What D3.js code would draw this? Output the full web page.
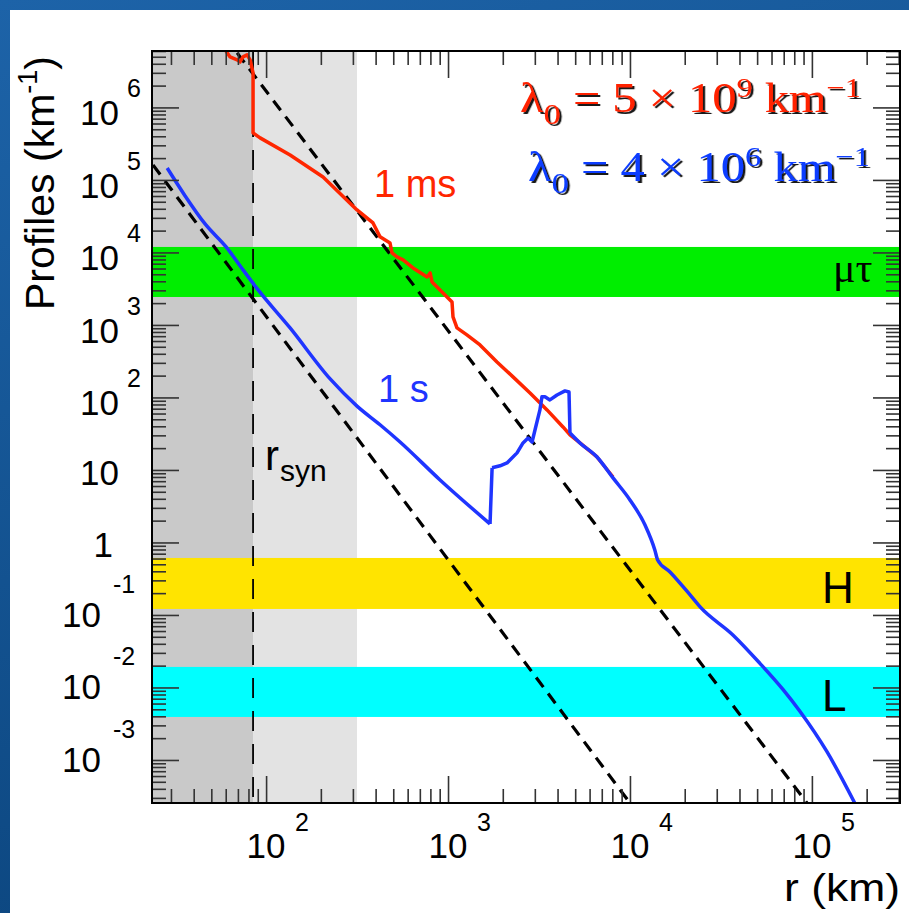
<!DOCTYPE html>
<html>
<head>
<meta charset="utf-8">
<title>Profiles vs r</title>
<script src="https://d3js.org/d3.v7.min.js"></script>
<style>
  body { margin: 0; background: #14589c; }
  svg { display: block; }
</style>
</head>
<body>
<div id="chart"></div>
<script>
// ---- data ----
const rDomain = [23.6, 3.05e5];        // km
const pDomain = [2.55e-4, 6.0e6];      // km^-1
const rSyn = 84.8;
const rLightEdge = 316;

const bandNames  = ["μτ", "H", "L"];
const bandLow    = [2.43e3, 0.121, 0.00392];
const bandHigh   = [1.19e4, 0.611, 0.0192];
const bandColors = ["#00ee00", "#ffe400", "#00ffff"];

// 1 ms profile (red)
const redR = [60.2, 63.4, 69.3, 71.9, 74.7, 78.6, 81.7, 84.8, 84.8, 92.7, 135.5, 205.6, 316, 387,
  423, 480, 492, 524, 566, 642, 767, 797, 817, 904, 1000, 1052, 1065, 1120, 1270, 1499, 1638,
  1858, 2276, 2823, 3501, 4285, 4680, 5310, 6590, 8070];
const redP = [6.0e6, 4.97e6, 4.52e6, 4.24e6, 4.97e6, 5.30e6, 4.52e6, 2.99e6, 4.45e5, 3.80e5,
  2.21e5, 1.10e5, 3.86e4, 2.55e4, 1.64e4, 1.35e4, 9.84e3, 8.67e3, 7.88e3, 6.11e3, 4.59e3,
  5.21e3, 3.92e3, 3.04e3, 2.36e3, 2.07e3, 1.29e3, 909, 728, 530, 424, 309, 192, 115, 67.3,
  39.2, 30.4, 23.6, 15.1, 8.0];

// 1 s profile (blue)
const blueR = [28.6, 35.9, 46.2, 60.3, 74.7, 90.4, 135.5, 225, 316, 423, 545, 904, 1702, 1747,
  1932, 2110, 2395, 2584, 2754, 2897, 3006, 3200, 3283, 3410, 3631, 3972, 4395, 4624, 4680,
  5310, 6590, 8070, 1.0e4, 1.21e4, 1.37e4, 1.42e4, 1.66e4, 2.14e4, 2.43e4, 3.68e4, 5.18e4,
  6.93e4, 8.59e4, 1.21e5, 1.72e5];
const blueP = [1.46e5, 6.02e4, 2.47e4, 1.19e4, 5.74e3, 3.04e3, 909, 180, 76, 42, 24.3, 7.28,
  1.80, 10.7, 11.4, 12.5, 17.2, 23.6, 27.6, 24.3, 35.6, 67.3, 102, 102, 92.4, 108, 123, 119,
  32.4, 23.6, 15.1, 7.76, 3.86, 1.74, 0.788, 0.574, 0.392, 0.189, 0.129, 0.053, 0.0215,
  0.0094, 0.0047, 0.0013, 2.55e-4];
// indices where the blue profile has sharp corners
const blueCorners = [12, 13, 28];

// dashed reference lines (end points)
const dashUpperR = [69.3, 9.40e4];
const dashUpperP = [5.65e6, 2.55e-4];
const dashLowerR = [23.9, 1.0e4];
const dashLowerP = [1.61e5, 2.55e-4];

const xLabelExp = [2, 3, 4, 5];
const yLabelExp = [-3, -2, -1, 0, 1, 2, 3, 4, 5, 6];

// ---- layout ----
const W = 909, H = 913;
const plotL = 152, plotR = 900, plotT = 51, plotB = 803;
const SANS = "Liberation Sans, Arial, Helvetica, sans-serif";
const SERIF = "Liberation Serif, Times New Roman, serif";

const svg = d3.select("#chart").append("svg")
  .attr("width", W).attr("height", H);

// slide background
const defs = svg.append("defs");
const grad = defs.append("linearGradient").attr("id", "bg")
  .attr("x1", 0).attr("y1", 0).attr("x2", 0.3).attr("y2", 1);
grad.append("stop").attr("offset", 0).attr("stop-color", "#1d63a8");
grad.append("stop").attr("offset", 1).attr("stop-color", "#0c467f");
svg.append("rect").attr("width", W).attr("height", H).attr("fill", "url(#bg)");
svg.append("rect").attr("x", 10).attr("y", 10).attr("width", W - 10).attr("height", H - 10)
  .attr("fill", "#fff");

defs.append("clipPath").attr("id", "plotclip").append("rect")
  .attr("x", plotL).attr("y", plotT).attr("width", plotR - plotL).attr("height", plotB - plotT);

// drop shadow for the lambda labels
defs.append("filter").attr("id", "shadow")
  .attr("x", "-5%").attr("y", "-20%").attr("width", "115%").attr("height", "150%")
  .append("feDropShadow").attr("dx", 2).attr("dy", 2).attr("stdDeviation", 0.4)
  .attr("flood-color", "#000").attr("flood-opacity", 0.9);

const x = d3.scaleLog().domain(rDomain).range([plotL, plotR]);
const y = d3.scaleLog().domain(pDomain).range([plotB, plotT]);

const plot = svg.append("g").attr("clip-path", "url(#plotclip)");

// shaded regions
plot.append("rect").attr("x", x(rDomain[0])).attr("y", plotT)
  .attr("width", x(rSyn) - x(rDomain[0])).attr("height", plotB - plotT).attr("fill", "#c9c9c9");
plot.append("rect").attr("x", x(rSyn)).attr("y", plotT)
  .attr("width", x(rLightEdge) - x(rSyn)).attr("height", plotB - plotT).attr("fill", "#e3e3e3");

// bands
bandNames.forEach((n, i) => {
  plot.append("rect").attr("x", plotL).attr("width", plotR - plotL)
    .attr("y", y(bandHigh[i])).attr("height", y(bandLow[i]) - y(bandHigh[i]))
    .attr("fill", bandColors[i]);
});

// r_syn line
plot.append("line").attr("x1", x(rSyn)).attr("x2", x(rSyn)).attr("y1", plotT).attr("y2", plotB)
  .attr("stroke", "#000").attr("stroke-width", 1.8).attr("stroke-dasharray", "20,13");

const line = d3.line().x(d => x(d[0])).y(d => y(d[1]));
const smooth = d3.line().x(d => x(d[0])).y(d => y(d[1])).curve(d3.curveMonotoneX);

[[dashUpperR, dashUpperP], [dashLowerR, dashLowerP]].forEach(([rs, ps]) => {
  plot.append("path").datum(d3.zip(rs, ps)).attr("d", line)
    .attr("fill", "none").attr("stroke", "#000").attr("stroke-width", 3.2)
    .attr("stroke-dasharray", "12,8");
});

plot.append("path").datum(d3.zip(redR, redP)).attr("d", line)
  .attr("fill", "none").attr("stroke", "#ff2600").attr("stroke-width", 3.5)
  .attr("stroke-linejoin", "round");

// blue: smooth pieces between the sharp corners, the spiky middle part kept straight
const bluePts = d3.zip(blueR, blueP);
const cuts = [0, ...blueCorners, bluePts.length - 1];
const bluePath = [];
for (let k = 0; k < cuts.length - 1; k++) {
  const seg = bluePts.slice(cuts[k], cuts[k + 1] + 1);
  const gen = (k === 0 || k === cuts.length - 2) ? smooth : line;
  bluePath.push(gen(seg));
}
plot.append("path").attr("d", bluePath.join(""))
  .attr("fill", "none").attr("stroke", "#1f35ff").attr("stroke-width", 3.5)
  .attr("stroke-linejoin", "round");

// ---- text helper ----
function label(px, py, str, size, color, anchor, family, sx) {
  return svg.append("text")
    .attr("transform", `translate(${px},${py}) scale(${sx || 1},1)`)
    .attr("font-family", family || SANS).attr("font-size", size)
    .attr("fill", color || "#000").attr("text-anchor", anchor || "start")
    .text(str);
}

// in-plot labels
label(374, 197, "1 ms", 38, "#ff2600");
label(378, 402, "1 s", 38, "#1f35ff");
const rs = label(265, 470, "r", 42, "#000");
rs.append("tspan").attr("font-size", 30).attr("dx", 1).attr("dy", 11).text("syn");
label(833, 282, bandNames[0], 42, "#000", "start", SERIF);
label(822, 603, bandNames[1], 44, "#000");
label(822, 711, bandNames[2], 44, "#000");

// lambda labels with drop shadow
function lambdaLabel(px, py, color, mant, expo, targetW) {
  const t = svg.append("text")
    .attr("font-family", SERIF).attr("font-size", 42).attr("fill", color)
    .attr("filter", "url(#shadow)");
  t.append("tspan").text("λ");
  t.append("tspan").attr("font-size", 30).attr("dy", 12).text("0");
  t.append("tspan").attr("dy", -12).text(" = " + mant + " × 10");
  t.append("tspan").attr("font-size", 28).attr("dy", -15).text(expo);
  t.append("tspan").attr("dy", 15).text(" km");
  t.append("tspan").attr("font-size", 28).attr("dy", -15).text("−1");
  const w = t.node().getBBox().width;
  t.attr("transform", `translate(${px},${py}) scale(${targetW / w},1)`);
}
lambdaLabel(520, 112, "#ff2200", "5", "9", 341);
lambdaLabel(528, 181, "#0a3cff", "4", "6", 342);

// ---- frame and ticks ----
const tickVals = (sc, n) => sc.ticks(n).filter(v => v >= sc.domain()[0] && v <= sc.domain()[1]);
const isMajor = v => Math.abs(Math.log10(v) - Math.round(Math.log10(v))) < 1e-6;
const xt = tickVals(x, 10), yt = tickVals(y, 30);
const xMaj = xt.filter(isMajor), xMin = xt.filter(v => !isMajor(v));
const yMaj = yt.filter(isMajor), yMin = yt.filter(v => !isMajor(v));

function addAxis(axisFn, sc, vals, size, tr) {
  const g = svg.append("g").attr("transform", tr)
    .call(axisFn(sc).tickValues(vals).tickSize(-size).tickFormat(""));
  g.select(".domain").remove();
  g.selectAll(".tick line").attr("stroke", "#333").attr("stroke-width", 1.6);
}
[[xMaj, 27], [xMin, 14]].forEach(([v, s]) => {
  addAxis(d3.axisBottom, x, v, s, `translate(0,${plotB})`);
  addAxis(d3.axisTop, x, v, s, `translate(0,${plotT})`);
});
[[yMaj, 27], [yMin, 14]].forEach(([v, s]) => {
  addAxis(d3.axisLeft, y, v, s, `translate(${plotL},0)`);
  addAxis(d3.axisRight, y, v, s, `translate(${plotR},0)`);
});

svg.append("rect").attr("x", plotL).attr("y", plotT).attr("width", plotR - plotL)
  .attr("height", plotB - plotT).attr("fill", "none").attr("stroke", "#000").attr("stroke-width", 2);

// tick labels
xLabelExp.forEach(e => {
  const px = x(Math.pow(10, e));
  label(px, 858, "10", 35, "#000", "middle");
  label(px + 29, 831, String(e), 25, "#000");
});
yLabelExp.forEach(e => {
  const py = y(Math.pow(10, e));
  if (e === 0) {
    label(113, py + 15, "1", 35, "#000", "end");
  } else if (e === 1) {
    label(119, py + 15, "10", 35, "#000", "end");
  } else if (e > 1) {
    label(119, py + 18, "10", 35, "#000", "end");
    label(127, py - 10, String(e), 25, "#000");
  } else {
    label(101, py + 12, "10", 35, "#000", "end");
    label(113, py - 22, String(e), 25, "#000");
  }
});

// axis titles
label(900, 901, "r (km)", 38, "#000", "end", SANS, 1.17);
const yTitle = svg.append("text")
  .attr("transform", "translate(54,56) rotate(-90)")
  .attr("font-family", SANS).attr("font-size", 41).attr("text-anchor", "end");
yTitle.append("tspan").text("Profiles (km");
yTitle.append("tspan").attr("font-size", 27).attr("dy", -17).text("-1");
yTitle.append("tspan").attr("dy", 17).text(")");
</script>
</body>
</html>
